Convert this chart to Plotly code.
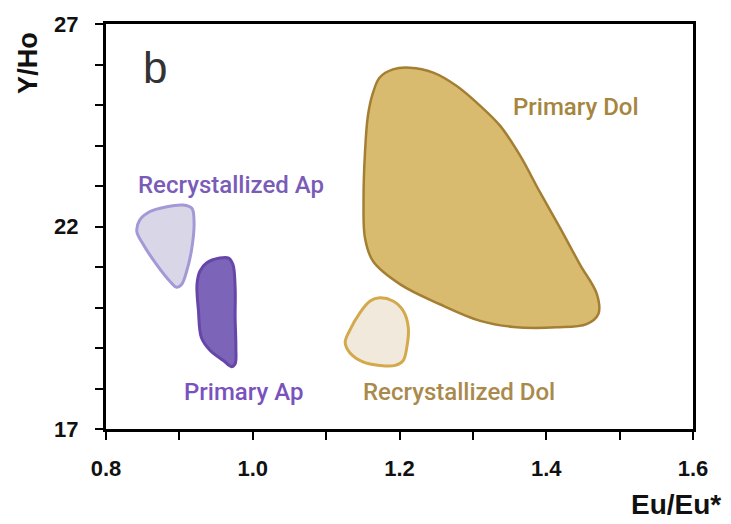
import plotly.graph_objects as go

# Field outlines in (Eu/Eu*, Y/Ho) coordinates
primary_dol_x = [1.173, 1.191, 1.214, 1.246, 1.278, 1.310, 1.337, 1.364, 1.391, 1.419, 1.446, 1.469,
                 1.471, 1.455, 1.414, 1.355, 1.310, 1.255, 1.201, 1.164, 1.153, 1.151, 1.153, 1.157, 1.164]
primary_dol_y = [25.68, 25.88, 25.92, 25.80, 25.47, 24.98, 24.49, 23.76, 22.86, 21.96, 21.06, 20.33,
                 19.84, 19.59, 19.51, 19.52, 19.67, 20.08, 20.57, 21.14, 21.71, 22.61, 23.84, 24.74, 25.31]

recryst_dol_x = [1.173, 1.191, 1.205, 1.212, 1.210, 1.205, 1.194, 1.173, 1.151, 1.132, 1.126, 1.132, 1.146, 1.160]
recryst_dol_y = [20.24, 20.16, 19.92, 19.51, 19.02, 18.69, 18.57, 18.57, 18.65, 18.89, 19.14, 19.43, 19.87, 20.16]

recryst_ap_x = [0.846, 0.860, 0.883, 0.905, 0.917, 0.920, 0.917, 0.910, 0.903, 0.896, 0.887, 0.869, 0.851, 0.842]
recryst_ap_y = [22.16, 22.37, 22.49, 22.53, 22.45, 22.12, 21.47, 20.90, 20.57, 20.50, 20.65, 21.06, 21.55, 21.88]

primary_ap_x = [0.937, 0.955, 0.967, 0.973, 0.976, 0.976, 0.977, 0.976, 0.971, 0.960, 0.942, 0.930, 0.926, 0.924, 0.928]
primary_ap_y = [21.10, 21.22, 21.22, 21.06, 20.49, 19.75, 19.02, 18.61, 18.54, 18.69, 18.94, 19.26, 19.92, 20.57, 20.90]

x_ticks = [0.8, 1.0, 1.2, 1.4, 1.6]
x_tick_text = ["0.8", "1.0", "1.2", "1.4", "1.6"]
y_ticks = [17, 22, 27]
y_tick_text = ["17", "22", "27"]

field_labels = ["Recrystallized Ap", "Primary Ap", "Primary Dol", "Recrystallized Dol"]
label_x = [0.970, 0.988, 1.441, 1.281]
label_y = [23.03, 17.91, 24.94, 17.91]
label_colors = ["#7A5CB8", "#7A52BE", "#A6853E", "#A98A4C"]

fields = [
    (primary_dol_x, primary_dol_y, "#D8BB6E", "#A47F33", 2.5),
    (recryst_dol_x, recryst_dol_y, "#F1E9DB", "#D3A94C", 3),
    (recryst_ap_x, recryst_ap_y, "#D9D6E7", "#A598D6", 3),
    (primary_ap_x, primary_ap_y, "#7C64B8", "#6646A8", 3),
]

fig = go.Figure()
for xs, ys, fill, edge, w in fields:
    fig.add_trace(go.Scatter(
        x=xs + xs[:1], y=ys + ys[:1], mode="lines", fill="toself",
        fillcolor=fill, line=dict(color=edge, width=w, shape="spline", smoothing=1.0),
        hoverinfo="skip", showlegend=False,
    ))

label_font = "Roboto, Liberation Sans, Arial, sans-serif"
for text, x, y, c in zip(field_labels, label_x, label_y, label_colors):
    fig.add_annotation(x=x, y=y, text=text, showarrow=False, xanchor="center", yanchor="middle",
                       font=dict(family=label_font, size=24, color=c, weight=500))

fig.add_annotation(x=0.867, y=25.92, text="b", showarrow=False, xanchor="center", yanchor="middle",
                   font=dict(family="Liberation Sans, Arial, sans-serif", size=44, color="#333333"))

axis_font = dict(family="Liberation Sans, Arial, sans-serif", size=22, color="#111111")
fig.add_annotation(xref="paper", yref="paper", x=0.971, y=-0.186, text="<b>Eu/Eu*</b>",
                   showarrow=False, xanchor="center", yanchor="middle",
                   font=dict(family="Liberation Sans, Arial, sans-serif", size=28, color="#111111"))
fig.add_annotation(xref="paper", yref="paper", x=0, xshift=-78, y=0.904, text="<b>Y/Ho</b>",
                   textangle=-90, showarrow=False, xanchor="center", yanchor="middle",
                   font=dict(family="Liberation Sans, Arial, sans-serif", size=27, color="#111111"))

fig.update_xaxes(
    range=[0.8, 1.6], tickvals=x_ticks, ticktext=[f"<b>{t}</b>" for t in x_tick_text],
    ticks="outside", ticklen=8, tickwidth=2, tickcolor="black",
    minor=dict(dtick=0.1, tick0=0.8, ticks="outside", ticklen=8, tickwidth=2, tickcolor="black", showgrid=False),
    showline=True, linewidth=3, linecolor="black", mirror=True,
    showgrid=False, zeroline=False, tickfont=axis_font, ticklabelstandoff=10,
)
fig.update_yaxes(
    range=[17, 27], tickvals=y_ticks, ticktext=[f"<b>{t}</b>" for t in y_tick_text],
    ticks="outside", ticklen=8, tickwidth=2, tickcolor="black",
    minor=dict(dtick=1, tick0=17, ticks="outside", ticklen=8, tickwidth=2, tickcolor="black", showgrid=False),
    showline=True, linewidth=3, linecolor="black", mirror=True,
    showgrid=False, zeroline=False, tickfont=axis_font, ticklabelstandoff=12,
)

fig.update_layout(
    width=731, height=524,
    margin=dict(l=106, r=38, t=21, b=95),
    plot_bgcolor="white", paper_bgcolor="white",
)

fig.write_html("out.html")
